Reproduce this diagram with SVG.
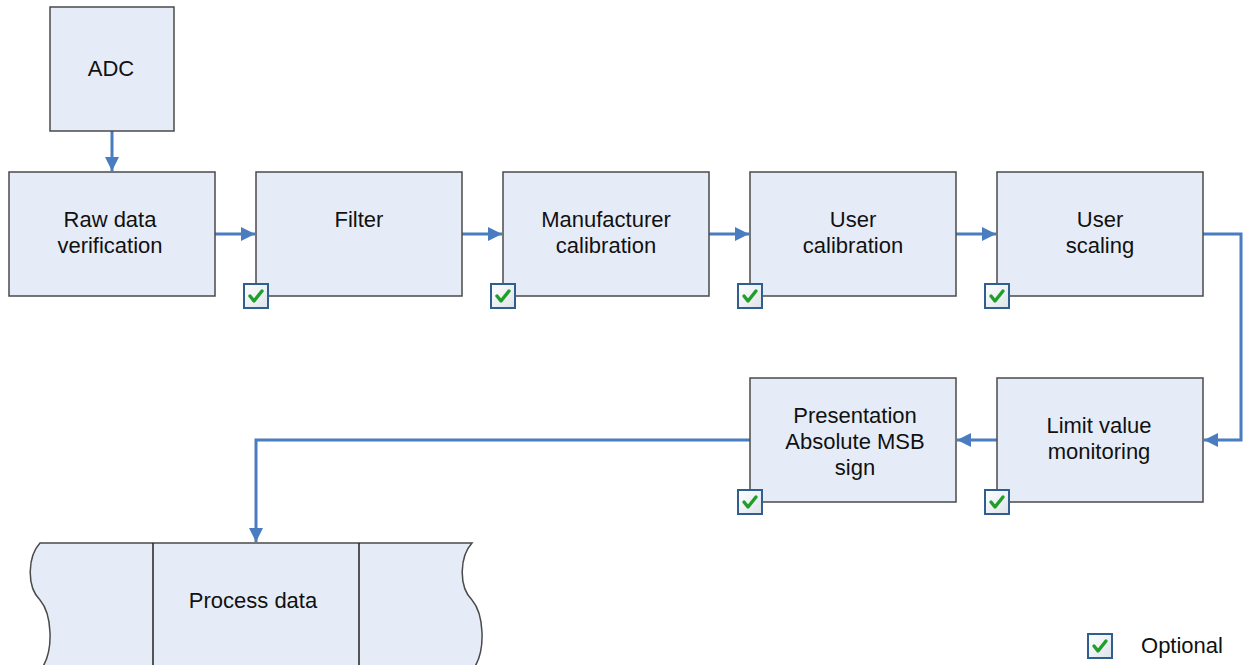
<svg xmlns="http://www.w3.org/2000/svg" width="1247" height="665" viewBox="0 0 1247 665">
<style>
.box{fill:#e6ecf7;stroke:#4a4a4a;stroke-width:1.5}
.t{font-family:"Liberation Sans",Arial,sans-serif;font-size:22px;fill:#111;text-anchor:middle}
.c{fill:none;stroke:#4a7cc0;stroke-width:3}
.cb{fill:url(#cbg);stroke:#2f5f8f;stroke-width:2}
.ck{fill:none;stroke:#1f9e2a;stroke-width:3.4;stroke-linecap:round;stroke-linejoin:round}
</style>
<defs>
<linearGradient id="cbg" x1="0" y1="0" x2="1" y2="1">
<stop offset="0" stop-color="#ffffff"/><stop offset="1" stop-color="#dde3ea"/>
</linearGradient>
<marker id="ah" viewBox="0 0 14 14" refX="14" refY="7" markerWidth="14" markerHeight="14" markerUnits="userSpaceOnUse" orient="auto">
<path d="M0,0 L14,7 L0,14 Z" fill="#4a7cc0"/>
</marker>
<g id="chk">
<rect class="cb" x="-12" y="-12" width="24" height="24"/>
<path class="ck" d="M-6,0 L-2,5 L6,-5"/>
</g>
</defs>
<rect width="1247" height="665" fill="#ffffff"/>
<g id="connectors">
<path class="c" d="M112,131 V171" marker-end="url(#ah)"/>
<path class="c" d="M215,234 H255" marker-end="url(#ah)"/>
<path class="c" d="M462,234 H502" marker-end="url(#ah)"/>
<path class="c" d="M709,234 H749" marker-end="url(#ah)"/>
<path class="c" d="M956,234 H996" marker-end="url(#ah)"/>
<path class="c" d="M1203,234 H1241 V440 H1204" marker-end="url(#ah)"/>
<path class="c" d="M997,440 H957" marker-end="url(#ah)"/>
<path class="c" d="M750,440 H256 V542" marker-end="url(#ah)"/>
</g>
<g id="adc"><rect class="box" x="50" y="7" width="124" height="124"/><text class="t" x="111" y="76">ADC</text></g>
<g id="raw"><rect class="box" x="9" y="172" width="206" height="124"/><text class="t" x="110" y="227">Raw data</text><text class="t" x="110" y="253">verification</text></g>
<g id="filter"><rect class="box" x="256" y="172" width="206" height="124"/><text class="t" x="359" y="227">Filter</text><use href="#chk" x="256" y="296"/></g>
<g id="manuf"><rect class="box" x="503" y="172" width="206" height="124"/><text class="t" x="606" y="227">Manufacturer</text><text class="t" x="606" y="253">calibration</text><use href="#chk" x="503" y="296"/></g>
<g id="ucal"><rect class="box" x="750" y="172" width="206" height="124"/><text class="t" x="853" y="227">User</text><text class="t" x="853" y="253">calibration</text><use href="#chk" x="750" y="296"/></g>
<g id="uscale"><rect class="box" x="997" y="172" width="206" height="124"/><text class="t" x="1100" y="227">User</text><text class="t" x="1100" y="253">scaling</text><use href="#chk" x="997" y="296"/></g>
<g id="limit"><rect class="box" x="997" y="378" width="206" height="124"/><text class="t" x="1099" y="433">Limit value</text><text class="t" x="1099" y="459">monitoring</text><use href="#chk" x="997" y="502"/></g>
<g id="pres"><rect class="box" x="750" y="378" width="206" height="124"/><text class="t" x="855" y="423">Presentation</text><text class="t" x="855" y="449">Absolute MSB</text><text class="t" x="855" y="475">sign</text><use href="#chk" x="750" y="502"/></g>
<g id="process">
<path d="M40,543 L472,543 C460,556 458,586 472,600 C484,614 486,650 474,668 L474,680 L42,680 L42,668 C54,650 52,614 40,600 C26,586 28,556 40,543 Z" fill="#e6ecf7"/>
<path d="M42,668 C54,650 52,614 40,600 C26,586 28,556 40,543 L472,543 C460,556 458,586 472,600 C484,614 486,650 474,668" fill="none" stroke="#4a4a4a" stroke-width="1.5"/>
<path d="M153,543 V665 M359,543 V665" stroke="#222" stroke-width="1.5"/>
<text class="t" x="253" y="608">Process data</text>
</g>
<g id="legend"><use href="#chk" x="1100" y="646"/><text class="t" x="1182" y="653">Optional</text></g>
</svg>
